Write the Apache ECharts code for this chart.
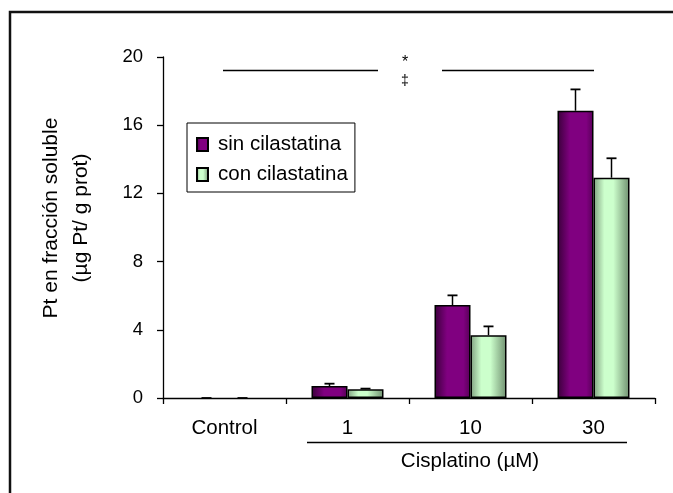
<!DOCTYPE html>
<html>
<head>
<meta charset="utf-8">
<script src="https://cdn.jsdelivr.net/npm/echarts@6/dist/echarts.min.js"></script>
<style>
  html, body { margin: 0; padding: 0; background: #fff; }
  #chart { width: 673px; height: 493px; }
</style>
</head>
<body>
<div id="chart"></div>
<script>
// Soluble-fraction platinum by cisplatin dose, with and without cilastatin
const categories = ['Control', '1', '10', '30'];
const sinCilastatina = [0, 0.7, 5.45, 16.85];
const conCilastatina = [0, 0.52, 3.68, 12.92];
const sinError = [0, 0.14, 0.57, 1.25];
const conError = [0, 0.03, 0.52, 1.14];
const yTicks = { min: 0, max: 20, interval: 4 };

const FONT = 'Liberation Sans, Arial, sans-serif';

const purpleFill = {
  type: 'linear', x: 0, y: 0, x2: 1, y2: 0,
  colorStops: [
    { offset: 0, color: '#3a003a' },
    { offset: 0.35, color: '#800080' },
    { offset: 0.8, color: '#800080' },
    { offset: 1, color: '#560056' }
  ]
};
const greenFill = {
  type: 'linear', x: 0, y: 0, x2: 1, y2: 0,
  colorStops: [
    { offset: 0, color: '#7f9f7f' },
    { offset: 0.3, color: '#ccffcc' },
    { offset: 0.55, color: '#ccffcc' },
    { offset: 1, color: '#6f8f6f' }
  ]
};

const BAR_W = 36;

// zero-height bars get no outline so only the error cap shows on the axis
function barData(values) {
  return values.map(v => (v === 0 ? { value: v, itemStyle: { borderWidth: 0 } } : v));
}

function errorSeries(name, values, errors, side) {
  return {
    name: name + ' err',
    type: 'custom',
    z: 5,
    silent: true,
    data: values.map((v, i) => [i, v, errors[i]]),
    renderItem: function (params, api) {
      const i = api.value(0), v = api.value(1), e = api.value(2);
      const base = api.coord([i, v]);
      const top = api.coord([i, v + e]);
      const x = base[0] + side * BAR_W / 2;
      return {
        type: 'group',
        children: [
          { type: 'line', shape: { x1: x, y1: base[1], x2: x, y2: top[1] },
            style: { stroke: '#000', lineWidth: 1.5 } },
          { type: 'line', shape: { x1: x - 5, y1: top[1], x2: x + 5, y2: top[1] },
            style: { stroke: '#000', lineWidth: 1.8 } }
        ]
      };
    }
  };
}

const chart = echarts.init(document.getElementById('chart'), null, { renderer: 'canvas' });

chart.setOption({
  animation: false,
  backgroundColor: '#fff',
  grid: { left: 163, right: 18, top: 57, bottom: 95, containLabel: false },
  legend: {
    data: ['sin cilastatina', 'con cilastatina'],
    orient: 'vertical',
    left: 187, top: 123,
    padding: [11, 7, 7, 9],
    icon: 'rect',
    itemWidth: 11, itemHeight: 13, itemGap: 9,
    borderColor: '#000', borderWidth: 1,
    backgroundColor: '#fff',
    textStyle: { fontFamily: FONT, fontSize: 20.5, color: '#000', lineHeight: 20, padding: [0, 0, 0, 5] }
  },
  xAxis: {
    type: 'category',
    data: categories,
    axisLine: { lineStyle: { color: '#000', width: 1.3 } },
    axisTick: { show: true, length: 6, interval: 0, lineStyle: { color: '#000', width: 1.3 } },
    axisLabel: { margin: 20, fontFamily: FONT, fontSize: 20.5, color: '#000' }
  },
  yAxis: {
    type: 'value',
    min: yTicks.min, max: yTicks.max, interval: yTicks.interval,
    splitLine: { show: false },
    axisLine: { show: true, lineStyle: { color: '#000', width: 1.3 } },
    axisTick: { show: true, length: 6, lineStyle: { color: '#000', width: 1.3 } },
    axisLabel: { margin: 20, fontFamily: FONT, fontSize: 18.5, color: '#000' }
  },
  series: [
    {
      name: 'sin cilastatina', type: 'bar', data: barData(sinCilastatina),
      barWidth: BAR_W, barGap: '0%',
      itemStyle: { color: purpleFill, borderColor: '#000', borderWidth: 1.5 }
    },
    {
      name: 'con cilastatina', type: 'bar', data: barData(conCilastatina),
      barWidth: BAR_W, barGap: '0%',
      itemStyle: { color: greenFill, borderColor: '#000', borderWidth: 1.5 }
    },
    errorSeries('sin cilastatina', sinCilastatina, sinError, -1),
    errorSeries('con cilastatina', conCilastatina, conError, 1)
  ],
  graphic: [
    // outer frame
    { type: 'rect', z: 100, silent: true,
      shape: { x: 10, y: 12, width: 700, height: 520 },
      style: { fill: 'none', stroke: '#111', lineWidth: 2.5 } },
    // y-axis title
    { type: 'text', x: 66, y: 218, rotation: Math.PI / 2,
      style: { text: 'Pt en fracción soluble\n(µg Pt/ g prot)', fontFamily: FONT, fontSize: 21,
               lineHeight: 30, fill: '#000', align: 'center', verticalAlign: 'middle' } },
    // significance marks
    { type: 'line', shape: { x1: 223, y1: 70.5, x2: 378, y2: 70.5 }, style: { stroke: '#000', lineWidth: 1.3 } },
    { type: 'line', shape: { x1: 442, y1: 70.5, x2: 594, y2: 70.5 }, style: { stroke: '#000', lineWidth: 1.3 } },
    { type: 'text', x: 405, y: 63,
      style: { text: '*', fontFamily: FONT, fontSize: 16, fill: '#000', align: 'center', verticalAlign: 'middle' } },
    { type: 'text', x: 405, y: 81,
      style: { text: '‡', fontFamily: FONT, fontSize: 14, fill: '#000', align: 'center', verticalAlign: 'middle' } },
    // cisplatin dose bracket
    { type: 'line', shape: { x1: 307, y1: 442.5, x2: 627, y2: 442.5 }, style: { stroke: '#000', lineWidth: 1.3 } },
    { type: 'text', x: 470, y: 461,
      style: { text: 'Cisplatino (µM)', fontFamily: FONT, fontSize: 20.5, fill: '#000', align: 'center', verticalAlign: 'middle' } }
  ]
});
</script>
</body>
</html>
